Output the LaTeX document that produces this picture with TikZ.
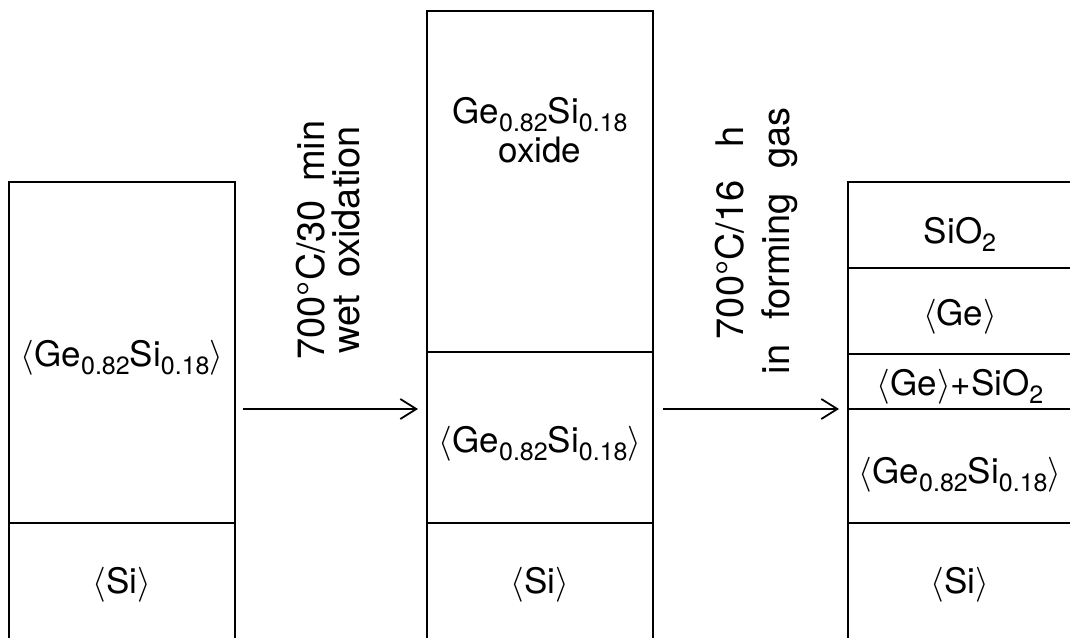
\RequirePackage{fix-cm}
\documentclass[tikz,border=0pt]{standalone}
\usepackage{fontspec}
\setmainfont{TeX Gyre Heros}
\usetikzlibrary{arrows.meta}
\newcommand\sbs[1]{\raisebox{-0.24em}{\fontsize{25}{25}\selectfont #1}}
\newcommand\lb{\ensuremath{\langle}}
\newcommand\rb{\ensuremath{\rangle}}
\tikzset{
  wall/.style={line width=2.8pt},
  layer/.style={line width=2pt},
  proc/.style={line width=1.8pt,-{Straight Barb[length=16pt,width=20pt,line width=1.8pt]}},
  lbl/.style={font=\fontsize{35}{44}\selectfont, inner sep=0pt, anchor=base},
  plabel/.style={font=\fontsize{38}{44}\selectfont, inner sep=0pt, rotate=90, anchor=base},
}
\begin{document}
\begin{tikzpicture}[x=1pt,y=-1pt]
\useasboundingbox (0,0) rectangle (1070,637);
% left stack
\draw[wall] (9,640) -- (9,182) -- (235,182) -- (235,640);
\draw[layer] (9,523) -- (235,523);
% middle stack
\draw[wall] (427,640) -- (427,11) -- (653,11) -- (653,640);
\draw[layer] (427,352) -- (653,352);
\draw[layer] (427,523) -- (653,523);
% right stack
\draw[wall] (848,640) -- (848,182) -- (1072,182);
\draw[layer] (848,268) -- (1072,268);
\draw[layer] (848,354) -- (1072,354);
\draw[layer] (848,409) -- (1072,409);
\draw[layer] (848,523) -- (1072,523);
% texts left
\node[lbl] (lge) at (122,366) {\lb Ge\sbs{0.82}Si\sbs{0.18}\rb};
\node[lbl] (lsi) at (122,593) {\lb Si\rb};
% texts middle
\node[lbl] (mox1) at (540,123) {Ge\sbs{0.82}Si\sbs{0.18}};
\node[lbl] (mox2) at (540,162) {oxide};
\node[lbl] (mge) at (540,452) {\lb Ge\sbs{0.82}Si\sbs{0.18}\rb};
\node[lbl] (msi) at (540,593) {\lb Si\rb};
% texts right
\node[lbl] (rsio) at (960,243) {SiO\sbs{2}};
\node[lbl] (rge) at (960,325) {\lb Ge\rb};
\node[lbl] (rmix) at (960,395) {\lb Ge\rb+SiO\sbs{2}};
\node[lbl] (rgesi) at (960,483) {\lb Ge\sbs{0.82}Si\sbs{0.18}\rb};
\node[lbl] (rsi) at (960,593) {\lb Si\rb};
% process labels
\node[plabel] (p1a) at (324,240) {700°C/30\hspace{0.5em}min};
\node[plabel] (p1b) at (359,240) {wet\hspace{0.45em}oxidation};
\node[plabel] (p2a) at (743,233) {700°C/16\hspace{0.85em}h};
\node[plabel] (p2b) at (789,241) {in\hspace{0.65em}forming\hspace{0.65em}gas};
% arrows
\coordinate (a1s) at (243,409);
\coordinate (a1e) at (418,409);
\coordinate (a2s) at (663,409);
\coordinate (a2e) at (839,409);
\draw[proc] (a1s) -- (a1e);
\draw[proc] (a2s) -- (a2e);
\end{tikzpicture}
\end{document}
